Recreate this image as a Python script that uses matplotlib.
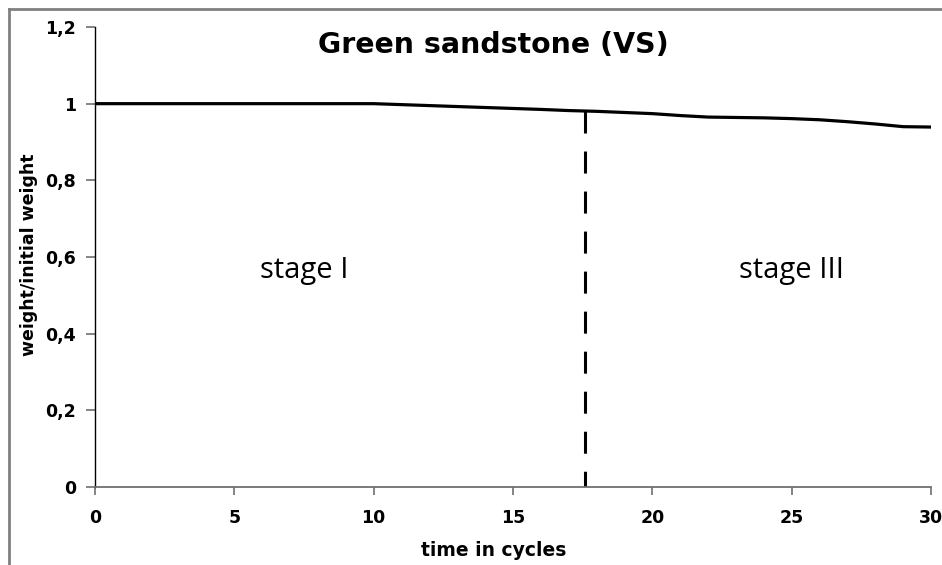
import matplotlib
matplotlib.use("Agg")
import matplotlib.pyplot as plt
from matplotlib.lines import Line2D

cycles = [0, 10, 12, 14, 16, 17, 18, 19, 20, 21, 22, 23, 24, 25, 26, 27, 28, 29, 30]
rel_weight = [1.0, 1.0, 0.995, 0.990, 0.985, 0.982, 0.980, 0.977, 0.974, 0.969, 0.965,
              0.964, 0.963, 0.961, 0.958, 0.953, 0.947, 0.940, 0.939]
boundary_x = 17.6
boundary_top = 0.981
x_ticks = [0, 5, 10, 15, 20, 25, 30]
y_ticks = [0, 0.2, 0.4, 0.6, 0.8, 1.0, 1.2]
y_tick_labels = ["0", "0,2", "0,4", "0,6", "0,8", "1", "1,2"]
title = "Green sandstone (VS)"
stage_labels = [("stage I", 7.5, 0.565), ("stage III", 25.0, 0.565)]

plt.rcParams['font.family'] = ['DejaVu Sans']

W, H = 942, 565
fig = plt.figure(figsize=(W/100, H/100), dpi=100)
ax = fig.add_axes([95/W, 1-487/H, (931-95)/W, (487-27)/H])

ax.plot(cycles, rel_weight, color='black', lw=2.3, solid_joinstyle='miter')
ax.plot([boundary_x, boundary_x], [boundary_top, 0], color='black', lw=2.2,
        dashes=(7.2, 5.9), dash_capstyle='butt')

ax.set_xlim(0, 30)
ax.set_ylim(0, 1.2)
ax.set_xticks(x_ticks)
ax.set_xticklabels([str(t) for t in x_ticks], fontsize=12.5, fontweight='bold')
ax.set_yticks(y_ticks)
ax.set_yticklabels(y_tick_labels, fontsize=12.5, fontweight='bold')

for s in ['top', 'right']:
    ax.spines[s].set_visible(False)
ax.spines['left'].set_color('black')
ax.spines['left'].set_linewidth(1.0)
ax.spines['bottom'].set_color('#707070')
ax.spines['bottom'].set_linewidth(1.3)
ax.tick_params(axis='y', direction='out', length=6.5, width=1.2, color='#707070', pad=7)
ax.tick_params(axis='x', direction='out', length=6, width=1.2, color='#707070', pad=10)

fig.text(494/W, 1-551/H, "time in cycles", ha='center', va='center',
         fontsize=13.5, fontweight='bold')
fig.text(29/W, 1-255/H, "weight/initial weight", ha='center', va='center',
         rotation=90, fontsize=12.5, fontweight='bold')

fig.text(493/W, 1-53/H, title, ha='center', va='baseline',
         fontsize=20.4, fontweight='bold')
for txt, x, y in stage_labels:
    ax.text(x, y, txt, ha='center', va='center', fontsize=21,
            family=['Open Sans', 'DejaVu Sans'])

# gray frame lines (left and top) of the figure
fig.add_artist(Line2D([9/W, 9/W], [0, 1-9/H], color='#808080', lw=2.0,
                      transform=fig.transFigure))
fig.add_artist(Line2D([9/W, 1], [1-9/H, 1-9/H], color='#808080', lw=2.0,
                      transform=fig.transFigure))

fig.savefig("out.png", dpi=100)
